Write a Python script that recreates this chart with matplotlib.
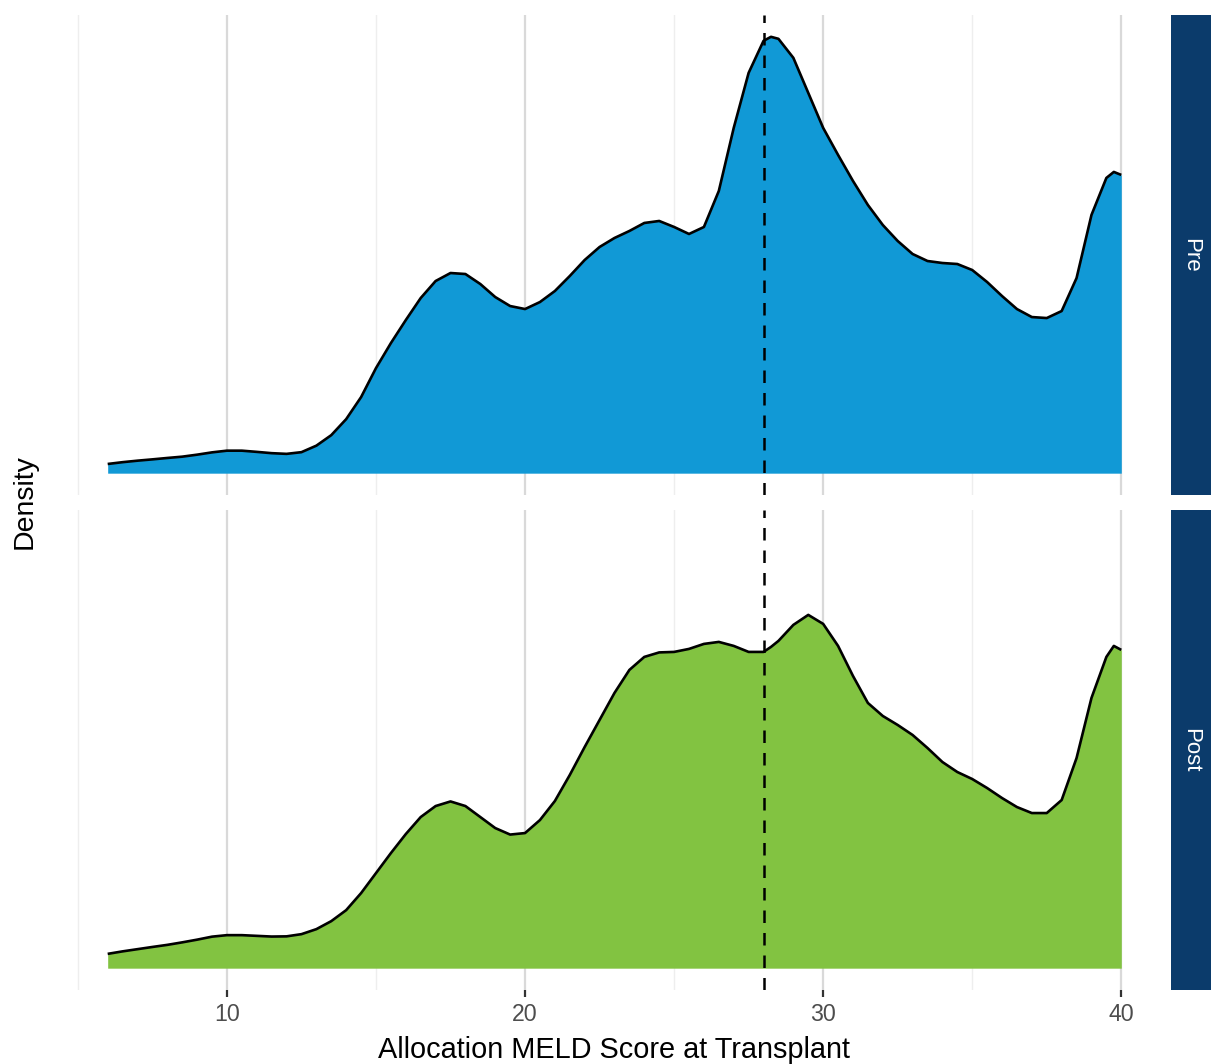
import matplotlib

matplotlib.use("Agg")
import matplotlib.pyplot as plt
import numpy as np

plt.rcParams["font.family"] = ["Liberation Sans", "DejaVu Sans"]

# ---------------------------------------------------------------------------
# Data (density in units of 1e-4)
# ---------------------------------------------------------------------------

meld_score = [
    6.0, 6.5, 7.0, 7.5, 8.0, 8.5, 9.0, 9.5, 10.0, 10.5, 11.0, 11.5, 12.0, 12.5,
    13.0, 13.5, 14.0, 14.5, 15.0, 15.5, 16.0, 16.5, 17.0, 17.5, 18.0, 18.5,
    19.0, 19.5, 20.0, 20.5, 21.0, 21.5, 22.0, 22.5, 23.0, 23.5, 24.0, 24.5,
    25.0, 25.5, 26.0, 26.5, 27.0, 27.5, 28.0, 28.25, 28.5, 29.0, 29.5, 30.0, 30.5,
    31.0, 31.5, 32.0, 32.5, 33.0, 33.5, 34.0, 34.5, 35.0, 35.5, 36.0, 36.5,
    37.0, 37.5, 38.0, 38.5, 39.0, 39.5, 39.75, 40.0,
]

pre_density = [
    9.2, 11.0, 12.5, 13.8, 15.2, 16.5, 18.5, 20.8, 22.5, 22.5, 21.3, 20.0, 19.3, 21.0,
    27.5, 38.0, 54.0, 76.0, 105.0, 130.0, 153.0, 175.0, 192.0, 200.0, 199.0, 189.0,
    176.0, 167.0, 164.0, 171.0, 182.0, 197.0, 213.0, 226.0, 235.0, 242.0, 250.0, 252.0,
    246.0, 239.0, 246.0, 282.0, 345.0, 400.0, 432.0, 436.0, 434.0, 415.0, 380.0, 345.0, 318.0,
    292.0, 268.0, 248.0, 232.0, 219.0, 212.0, 210.0, 209.0, 203.0, 191.0, 177.0, 164.0,
    156.0, 155.0, 162.0, 195.0, 258.0, 295.0, 301.0, 298.0,
]

post_density = [
    14.3, 16.8, 19.0, 21.2, 23.3, 25.8, 28.5, 31.5, 33.0, 33.0, 32.3, 31.6, 31.8, 34.0,
    39.0, 47.0, 58.0, 75.0, 95.0, 115.0, 134.0, 151.0, 162.0, 166.6, 162.0, 151.0,
    140.0, 133.5, 135.0, 148.0, 167.0, 193.0, 221.0, 248.0, 275.0, 298.0, 311.0, 315.5,
    316.0, 319.0, 324.0, 326.0, 322.0, 316.0, 316.0, 321.0, 327.0, 343.0, 353.0, 344.0, 322.0,
    292.0, 265.0, 252.0, 243.0, 233.0, 220.0, 206.0, 196.0, 189.0, 180.0, 170.0, 161.0,
    155.0, 155.0, 168.0, 210.0, 270.0, 311.0, 322.0, 318.0,
]

periods = ["Pre", "Post"]
fill_colors = ["#1199D6", "#82C341"]
median_score = 28

x_ticks = [10, 20, 30, 40]
x_minor = [5, 15, 25, 35]

# ---------------------------------------------------------------------------
# Figure layout (pixel-based, 1211 x 1064)
# ---------------------------------------------------------------------------

W, H = 1211, 1064
fig = plt.figure(figsize=(W / 100, H / 100), dpi=100)

panel_left, panel_right = 57, 1166
panel_rows = [(15, 495), (510, 990)]
strip_left, strip_right = 1171, 1211

x = np.asarray(meld_score)
series = [np.asarray(pre_density) * 1e-4, np.asarray(post_density) * 1e-4]
ymax = max(s.max() for s in series)

for i, (top, bottom) in enumerate(panel_rows):
    ax = fig.add_axes(
        [panel_left / W, 1 - bottom / H, (panel_right - panel_left) / W, (bottom - top) / H]
    )
    dens = series[i]

    ax.fill_between(x, 0, dens, color=fill_colors[i], lw=0, zorder=2)
    ax.plot(x, dens, color="black", lw=1.9, solid_joinstyle="round",
            solid_capstyle="butt", zorder=3)
    ax.axvline(median_score, color="black", lw=1.8, linestyle=(0, (5.0, 4.0)), zorder=4)

    ax.set_xlim(4.3, 41.5)
    ax.set_ylim(-0.05 * ymax, 1.05 * ymax)
    ax.set_xticks(x_ticks)
    ax.set_xticks(x_minor, minor=True)
    ax.set_yticks([])
    ax.grid(True, which="major", axis="x", color="#D9D9D9", lw=1.6, zorder=0)
    ax.grid(True, which="minor", axis="x", color="#EEEEEE", lw=1.0, zorder=0)
    ax.set_axisbelow(True)
    for spine in ax.spines.values():
        spine.set_visible(False)

    ax.tick_params(axis="x", which="minor", length=0)
    if i == 0:
        ax.tick_params(axis="x", which="major", length=0, labelbottom=False)
    else:
        ax.tick_params(axis="x", which="major", length=5.2, width=1.6, color="#333333",
                       labelsize=16.7, labelcolor="#4D4D4D", pad=4.5)

    # facet strip on the right
    sax = fig.add_axes([strip_left / W, 1 - bottom / H, (strip_right - strip_left) / W,
                        (bottom - top) / H])
    sax.set_facecolor("#0B3B6B")
    sax.set_xticks([])
    sax.set_yticks([])
    for spine in sax.spines.values():
        spine.set_visible(False)
    sax.text(0.5, 0.5, periods[i], rotation=-90, color="white", fontsize=16,
             ha="center", va="center", transform=sax.transAxes)

fig.text(25 / W, 1 - 502 / H, "Density", rotation=90, fontsize=20.5,
         ha="center", va="center")
fig.text((panel_left + 1171) / 2 / W, 1 - 1058 / H,
         "Allocation MELD Score at Transplant", fontsize=20.8,
         ha="center", va="baseline")

fig.savefig("out.png", dpi=100, facecolor="white")
plt.close(fig)
